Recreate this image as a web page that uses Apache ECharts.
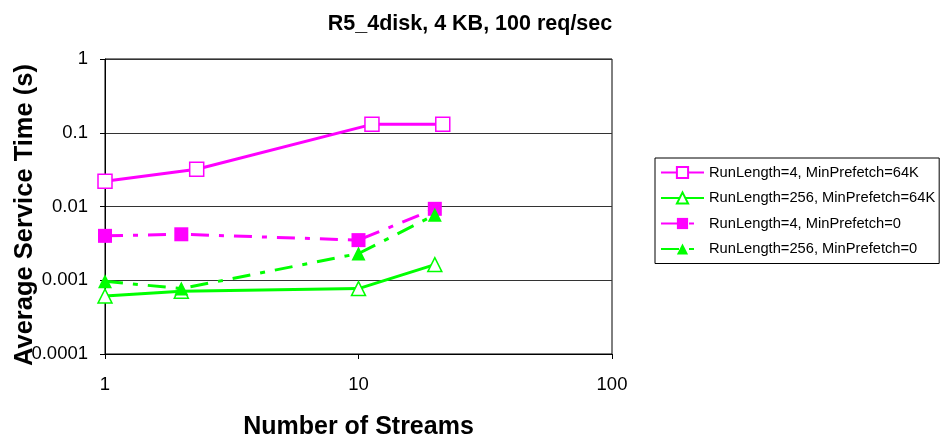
<!DOCTYPE html>
<html>
<head>
<meta charset="utf-8">
<title>R5_4disk, 4 KB, 100 req/sec</title>
<script src="https://cdn.jsdelivr.net/npm/echarts@6/dist/echarts.min.js"></script>
<style>
  html, body { margin: 0; padding: 0; background: #fff; }
  #chart { width: 940px; height: 440px; }
</style>
</head>
<body>
<div id="chart"></div>
<script>
// Number of streams for each configuration
const streamsRl4Pf64k = [1, 2.3, 11.3, 21.5];
const streamsOther = [1, 2, 10, 20];

// Average service time (s)
const rl4Pf64k = [0.022, 0.032, 0.13, 0.13];
const rl256Pf64k = [0.00061, 0.00071, 0.00077, 0.00163];
const rl4Pf0 = [0.0040, 0.0042, 0.0035, 0.0093];
const rl256Pf0 = [0.00097, 0.00077, 0.0023, 0.0077];

const seriesNames = [
  'RunLength=4, MinPrefetch=64K',
  'RunLength=256, MinPrefetch=64K',
  'RunLength=4, MinPrefetch=0',
  'RunLength=256, MinPrefetch=0'
];

const xTickLabels = ['1', '10', '100'];
const yTickLabels = ['0.0001', '0.001', '0.01', '0.1', '1'];

const MAGENTA = '#ff00ff';
const GREEN = '#00ff00';
const dashDot = [18, 10, 5, 10];

function pairs(xs, ys) {
  return xs.map((x, i) => [x, ys[i]]);
}

function tickText(labels, minExp) {
  return function (v) {
    const i = Math.round(Math.log10(v)) - minExp;
    return labels[i] !== undefined ? labels[i] : '';
  };
}

const chart = echarts.init(document.getElementById('chart'), null, { renderer: 'canvas' });

const fontFamily = '"Liberation Sans", Arial, sans-serif';

chart.setOption({
  animation: false,
  backgroundColor: '#fff',
  textStyle: { fontFamily: fontFamily },
  title: {
    text: 'R5_4disk, 4 KB, 100 req/sec',
    left: 'center',
    top: 8,
    textStyle: { fontSize: 21.5, fontWeight: 'bold', color: '#000', fontFamily: fontFamily }
  },
  grid: {
    left: 105, right: 328, top: 59, bottom: 86,
    outerBoundsMode: 'none',
    containLabel: false,
    show: true, borderColor: '#000', borderWidth: 1, backgroundColor: '#fff'
  },
  legend: {
    orient: 'vertical',
    left: 655, top: 158,
    padding: [7, 4, 7, 5],
    itemWidth: 43, itemHeight: 14, itemGap: 10.5,
    borderColor: '#000', borderWidth: 1,
    backgroundColor: '#fff',
    textStyle: { fontSize: 14.7, color: '#000', fontFamily: fontFamily, lineHeight: 14 },
    data: seriesNames
  },
  xAxis: {
    type: 'log', logBase: 10, min: 1, max: 100, interval: 1,
    name: 'Number of Streams',
    nameLocation: 'middle', nameGap: 61,
    nameMoveOverlap: false,
    nameTextStyle: { fontSize: 25, fontWeight: 'bold', color: '#000', fontFamily: fontFamily },
    axisLine: { lineStyle: { color: '#000', width: 1 } },
    axisTick: { show: true, length: 5, inside: false, lineStyle: { color: '#000' } },
    minorTick: { show: false },
    axisLabel: { fontSize: 18.5, color: '#000', margin: 21, formatter: tickText(xTickLabels, 0) },
    splitLine: { show: false }
  },
  yAxis: {
    type: 'log', logBase: 10, min: 0.0001, max: 1, interval: 1,
    name: 'Average Service Time (s)',
    nameLocation: 'middle', nameGap: 67, nameRotate: 90,
    nameMoveOverlap: false,
    nameTextStyle: {
      fontSize: 25.5, fontWeight: 'bold', color: '#000', fontFamily: fontFamily,
      padding: [0, 17, 0, 0]
    },
    axisLine: { lineStyle: { color: '#000', width: 1 } },
    axisTick: { show: true, length: 5, inside: false, lineStyle: { color: '#000' } },
    minorTick: { show: false },
    axisLabel: { fontSize: 18.5, color: '#000', margin: 17, formatter: tickText(yTickLabels, -4) },
    splitLine: { show: true, lineStyle: { color: '#333', width: 1 } }
  },
  series: [
    {
      name: seriesNames[0], type: 'line',
      data: pairs(streamsRl4Pf64k, rl4Pf64k),
      symbol: 'rect', symbolSize: 14,
      lineStyle: { color: MAGENTA, width: 3, type: 'solid' },
      itemStyle: { color: '#fff', borderColor: MAGENTA, borderWidth: 1.5 }
    },
    {
      name: seriesNames[1], type: 'line',
      data: pairs(streamsOther, rl256Pf64k),
      symbol: 'triangle', symbolSize: 14,
      lineStyle: { color: GREEN, width: 3, type: 'solid' },
      itemStyle: { color: '#fff', borderColor: GREEN, borderWidth: 1.5 }
    },
    {
      name: seriesNames[2], type: 'line',
      data: pairs(streamsOther, rl4Pf0),
      symbol: 'rect', symbolSize: 14,
      lineStyle: { color: MAGENTA, width: 3, type: dashDot },
      itemStyle: { color: MAGENTA, borderColor: MAGENTA, borderWidth: 0 }
    },
    {
      name: seriesNames[3], type: 'line',
      data: pairs(streamsOther, rl256Pf0),
      symbol: 'triangle', symbolSize: 14,
      lineStyle: { color: GREEN, width: 3, type: dashDot },
      itemStyle: { color: GREEN, borderColor: GREEN, borderWidth: 0 }
    }
  ]
});
</script>
</body>
</html>
